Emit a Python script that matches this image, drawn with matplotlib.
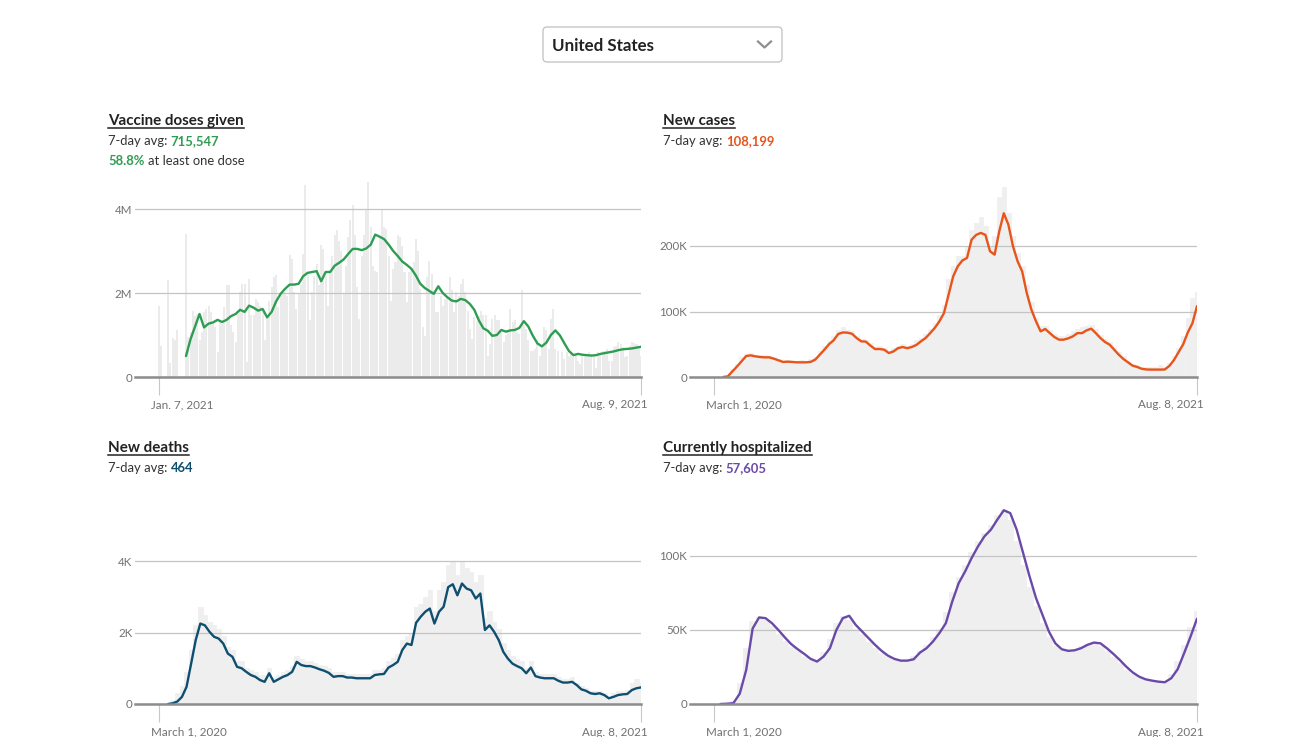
import numpy as np
import pandas as pd
import matplotlib
matplotlib.use('Agg')
import matplotlib.pyplot as plt
import matplotlib.dates as mdates
from matplotlib.patches import FancyBboxPatch
from matplotlib.lines import Line2D
from matplotlib.transforms import IdentityTransform

plt.rcParams['font.family'] = ['Lato', 'DejaVu Sans']

W, H = 1298, 737
nan = np.nan

# ---------------- data ----------------
country = 'United States'

# Vaccine doses given: daily doses (millions), Jan 7 -> Aug 9 2021
vax_start, vax_end = '2021-01-07', '2021-08-09'
vax_daily = [
    1.68, 0.75, 0, 0, 2.3, 0.33, 0.94, 0.89, 1.13, 0,
    0, 0, 3.41, 0.95, 1.07, 1.56, 1.45, 1.5, 0.87, 1.07,
    1.55, 1.63, 1.68, 1.55, 1.3, 1.2, 0.6, 1.3, 1.27, 1.66,
    2.2, 2.18, 1.23, 1.07, 0.83, 1.5, 2.02, 2.22, 2.22, 0.36,
    2.33, 1.47, 1.47, 1.85, 1.79, 1.7, 1.55, 0.87, 1.47, 1.8,
    2.14, 2.38, 2.42, 1.67, 2.02, 2.0, 2.02, 1.94, 2.9, 2.82,
    2.02, 1.63, 1.98, 2.18, 2.94, 4.58, 2.42, 1.35, 2.02, 2.4,
    2.7, 2.18, 3.14, 3.05, 2.4, 1.7, 2.49, 2.89, 3.37, 3.49,
    3.25, 3.0, 2.0, 2.65, 3.33, 3.73, 4.09, 3.37, 2.14, 1.38,
    2.89, 3.37, 4.0, 4.65, 3.57, 2.65, 2.53, 2.49, 3.33, 3.97,
    3.57, 3.53, 2.89, 1.82, 2.57, 2.73, 3.37, 3.33, 3.13, 2.49,
    1.78, 2.49, 2.57, 2.73, 3.29, 3.01, 2.1, 1.18, 0.98, 2.37,
    2.77, 2.45, 2.06, 1.54, 1.54, 1.94, 1.7, 1.86, 1.94, 2.37,
    2.06, 1.54, 2.02, 1.94, 2.22, 2.33, 2.02, 1.58, 1.14, 0.9,
    1.42, 1.34, 1.46, 1.58, 1.47, 1.47, 0.51, 0.79, 1.39, 1.47,
    1.35, 1.35, 1.07, 0.83, 0.99, 1.11, 1.63, 1.31, 1.35, 1.07,
    1.03, 2.07, 1.23, 1.15, 0.87, 0.63, 0.63, 0.67, 0.87, 0.51,
    0.71, 1.19, 1.11, 0.67, 1.39, 1.63, 0.67, 0.63, 0.02, 0.59,
    0.43, 0.59, 0.51, 0.59, 0.47, 0.55, 0.39, 0.31, 0.51, 0.51,
    0.55, 0.59, 0.55, 0.51, 0.22, 0.59, 0.55, 0.63, 0.63, 0.67,
    0.39, 0.39, 0.71, 0.75, 0.84, 0.79, 0.71, 0.47, 0.51, 0.75,
    0.84, 0.81, 0.79, 0.75, 0.51,
]
# 7-day average (millions), every 2 days from Jan 7 2021
vax_avg = [
    nan, nan, nan, nan, nan, nan, 0.5, 0.9, 1.2, 1.5,
    1.18, 1.27, 1.3, 1.36, 1.31, 1.36, 1.45, 1.5, 1.6, 1.55,
    1.7, 1.65, 1.58, 1.62, 1.42, 1.55, 1.8, 1.98, 2.1, 2.2,
    2.2, 2.22, 2.4, 2.48, 2.5, 2.52, 2.28, 2.5, 2.5, 2.65,
    2.72, 2.8, 2.93, 3.05, 3.05, 3.02, 3.06, 3.15, 3.39, 3.34,
    3.28, 3.15, 3.0, 2.88, 2.75, 2.67, 2.58, 2.42, 2.22, 2.12,
    2.05, 1.98, 2.16, 2.0, 1.9, 1.82, 1.8, 1.86, 1.83, 1.74,
    1.6, 1.35, 1.16, 1.1, 0.98, 1.0, 1.12, 1.08, 1.11, 1.12,
    1.17, 1.33, 1.2, 0.98, 0.8, 0.73, 0.82, 1.0, 1.11, 0.99,
    0.8, 0.62, 0.52, 0.55, 0.53, 0.52, 0.51, 0.52, 0.55, 0.57,
    0.59, 0.61, 0.64, 0.66, 0.67, 0.68, 0.7, 0.72,
]
vax_avg_label = '715,547'
vax_pct_label = '58.8%'

# Cases / deaths: every 5 days from Mar 1 2020 to Aug 8 2021
covid_start, covid_end = '2020-03-01', '2021-08-08'
cases_daily = [  # thousands
    0, 0, 0.3, 2, 12, 20, 30, 35, 36, 34,
    33, 33, 32, 31, 27, 25, 26, 25, 24, 26,
    24, 27, 30, 40, 48, 55, 62, 72, 76, 72,
    70, 62, 58, 56, 52, 46, 48, 44, 38, 44,
    48, 50, 48, 50, 56, 60, 65, 74, 82, 95,
    110, 150, 170, 185, 185, 200, 225, 235, 245, 230,
    200, 215, 275, 290, 250, 215, 190, 170, 140, 115,
    90, 78, 78, 72, 66, 62, 62, 66, 70, 74,
    76, 78, 80, 74, 64, 58, 54, 46, 38, 32,
    25, 20, 18, 16, 15, 15, 16, 18, 16, 22,
    32, 45, 62, 90, 120, 130,
]
cases_avg = [
    nan, nan, 0, 1, 8.6, 16, 24, 32, 33, 31.5,
    30.5, 30, 30, 28, 25.5, 23, 23.4, 23, 22.4, 22.4,
    22.4, 23, 26.5, 34, 41.7, 50, 56, 65.6, 68, 67.7,
    66, 59.5, 54.5, 54, 48, 42.7, 42.7, 41.7, 36.6, 39,
    44, 45.8, 44, 45.8, 49, 54.5, 59.5, 67, 75, 85,
    97.7, 125.7, 153.7, 169, 178, 181.7, 209.7, 217, 220, 217,
    192, 186.8, 222, 250, 232.5, 199.5, 176.6, 161, 128, 102.8,
    85, 69.7, 73.3, 67, 61, 57, 57, 59, 62, 67,
    67, 71.2, 73.8, 67, 59.5, 53.4, 49.4, 41.7, 34, 27.5,
    22.4, 17.3, 15.3, 12.5, 11.5, 11.3, 11.3, 11.3, 11.5, 17,
    26, 38, 50, 68, 82, 108.2,
]
cases_avg_label = '108,199'

deaths_daily = [  # thousands
    0, 0, 0.02, 0.1, 0.3, 0.5, 0.9, 1.5, 2.2, 2.7,
    2.5, 2.3, 2.2, 2.1, 1.9, 1.6, 1.5, 1.2, 1.2, 1.0,
    0.95, 0.9, 0.8, 0.8, 1.0, 0.75, 0.8, 0.9, 0.95, 1.05,
    1.35, 1.25, 1.2, 1.2, 1.15, 1.1, 1.05, 1.0, 0.9, 0.9,
    0.9, 0.85, 0.85, 0.85, 0.85, 0.85, 0.85, 0.95, 0.95, 1.0,
    1.2, 1.3, 1.4, 1.8, 1.9, 2.0, 2.7, 2.8, 3.0, 3.2,
    2.6, 3.2, 3.4, 3.9, 4.0, 3.6, 4.0, 3.8, 3.7, 3.4,
    3.6, 2.4, 2.6, 2.3, 2.1, 1.7, 1.5, 1.35, 1.25, 1.2,
    1.0, 1.2, 0.9, 0.85, 0.85, 0.85, 0.85, 0.75, 0.7, 0.7,
    0.75, 0.6, 0.5, 0.45, 0.35, 0.35, 0.35, 0.3, 0.2, 0.3,
    0.35, 0.35, 0.4, 0.6, 0.7, 0.6,
]
deaths_avg = [
    nan, nan, 0, 0.02, 0.07, 0.2, 0.48, 1.13, 1.79, 2.25,
    2.2, 2.02, 1.88, 1.83, 1.69, 1.41, 1.32, 1.04, 1.0, 0.9,
    0.81, 0.76, 0.67, 0.62, 0.86, 0.62, 0.69, 0.76, 0.81, 0.9,
    1.18, 1.09, 1.06, 1.06, 1.02, 0.97, 0.93, 0.87, 0.76, 0.78,
    0.78, 0.74, 0.74, 0.72, 0.72, 0.72, 0.72, 0.81, 0.83, 0.84,
    1.02, 1.09, 1.18, 1.51, 1.69, 1.65, 2.27, 2.44, 2.58, 2.67,
    2.25, 2.58, 2.72, 3.27, 3.35, 3.04, 3.37, 3.23, 3.18, 2.95,
    3.09, 2.07, 2.2, 2.02, 1.79, 1.46, 1.27, 1.13, 1.06, 1.0,
    0.86, 1.02, 0.78, 0.74, 0.72, 0.72, 0.72, 0.65, 0.6, 0.6,
    0.62, 0.53, 0.41, 0.37, 0.3, 0.28, 0.3, 0.25, 0.16, 0.2,
    0.25, 0.27, 0.28, 0.39, 0.44, 0.464,
]
deaths_avg_label = '464'

# Currently hospitalized: weekly from Mar 1 2020 (thousands)
hosp_daily = [
    0, 0, 0.3, 2, 14, 38, 56, 59, 57, 52.5,
    47.5, 42.5, 38.7, 35.5, 32, 29.5, 30, 35, 44, 55,
    59.5, 57, 51, 47, 42, 38, 34.5, 31.5, 30, 29.3,
    29.7, 32.5, 36, 40, 45, 51, 62, 76, 86, 94,
    102.5, 110, 115.5, 121, 128, 131, 124, 110, 94, 79,
    66, 55, 45, 39, 36.5, 36, 37, 39, 40.8, 41.3,
    39.5, 36, 32, 27.5, 23.3, 20, 17.6, 16.2, 15.4, 14.9,
    15.5, 20, 29, 40, 52, 63,
]
hosp_avg = [
    nan, 0, 0.2, 0.5, 7, 23, 51, 58.5, 58, 54.6,
    50, 45, 40.4, 37, 33.9, 30.5, 28.7, 32, 37.7, 50,
    58, 59.6, 53.5, 49, 44.5, 40, 36, 32.7, 30.5, 29.3,
    29.3, 30.2, 34.8, 37.7, 42.2, 47.9, 54.6, 69.3, 81.7, 89.6,
    98.6, 106.5, 113.3, 117.8, 124.6, 130.9, 129, 117.8, 102, 86.2,
    71.6, 60.3, 49, 41, 37, 35.9, 36.3, 37.7, 40, 41.5,
    41, 37.7, 33.9, 29.8, 25.3, 21.4, 18.5, 16.7, 15.8, 15.1,
    14.7, 17.4, 23.5, 34.3, 45.6, 57.6,
]
hosp_avg_label = '57,605'

vax_xlabels = ['Jan. 7, 2021', 'Aug. 9, 2021']
covid_xlabels = ['March 1, 2020', 'Aug. 8, 2021']

# ---------------- style ----------------
BAR = '#ebebeb'
BAR_DENSE = '#efefef'
GRID = '#c4c4c4'
ZERO = '#8c8c8c'
TICKTXT = '#707070'
DARK = '#333333'
GREEN = '#2e9d52'
ORANGE = '#e8541a'
BLUE = '#0e4f70'
PURPLE = '#6a4aa8'

fig = plt.figure(figsize=(W / 100, H / 100), dpi=100)
fig.patch.set_facecolor('white')


def px_axes(left, top, right, bottom):
    return fig.add_axes([left / W, 1 - bottom / H, (right - left) / W, (bottom - top) / H])


def draw_panel(rect, data_left, start, end, bar_vals, bar_step, line_vals, line_step,
               color, ymax, yticks, yticklabels, xlabels):
    left, top, right, bottom = rect
    ax = px_axes(*rect)
    s = mdates.date2num(pd.Timestamp(start))
    e = mdates.date2num(pd.Timestamp(end))
    bar_x = mdates.date2num(pd.date_range(start, periods=len(bar_vals), freq=f'{bar_step}D'))
    line_x = mdates.date2num(pd.date_range(start, periods=len(line_vals), freq=f'{line_step}D'))
    if bar_step == 1:
        ax.bar(bar_x, bar_vals, width=0.9, color=BAR, linewidth=0, zorder=1)
    else:
        ax.bar(bar_x, bar_vals, width=bar_step, color=BAR_DENSE, edgecolor=BAR_DENSE,
               linewidth=0.6, zorder=1)
    ax.plot(line_x, line_vals, color=color, lw=1.7, zorder=3,
            solid_joinstyle='round', solid_capstyle='round')
    pad = (e - s) * (data_left - left) / (right - data_left)
    ax.set_xlim(s - pad, e)
    ax.set_ylim(0, ymax)
    for sp in ax.spines.values():
        sp.set_visible(False)
    ax.set_axisbelow('line')
    ax.yaxis.grid(True, color=GRID, lw=0.9)
    ax.set_yticks(yticks, labels=yticklabels)
    ax.tick_params(axis='y', length=0, pad=2, labelsize=8.3, labelcolor=TICKTXT)
    ax.axhline(0, color=ZERO, lw=1.8, zorder=4, clip_on=False)
    ax.set_xticks([s, e])
    ax.tick_params(axis='x', length=13, width=0.8, color='#c8c8c8', labelbottom=False)
    ax.annotate(xlabels[0], xy=(s, 0), xycoords=('data', 'axes fraction'),
                xytext=(-8, -28), textcoords='offset pixels', ha='left', va='center',
                fontsize=8.4, color=TICKTXT, annotation_clip=False)
    ax.annotate(xlabels[1], xy=(e, 0), xycoords=('data', 'axes fraction'),
                xytext=(7, -28), textcoords='offset pixels', ha='right', va='center',
                fontsize=8.4, color=TICKTXT, annotation_clip=False)
    return ax


draw_panel((135, 177, 641, 377), 159, vax_start, vax_end, vax_daily, 1, vax_avg, 2,
           GREEN, 200 / 42, [0, 2, 4], ['0', '2M', '4M'], vax_xlabels)
draw_panel((690, 177, 1197, 377), 714, covid_start, covid_end, cases_daily, 5, cases_avg, 5,
           ORANGE, 200 / 0.655, [0, 100, 200], ['0', '100K', '200K'], covid_xlabels)
draw_panel((135, 504, 641, 704), 159, covid_start, covid_end, deaths_daily, 5, deaths_avg, 5,
           BLUE, 200 / 35.75, [0, 2, 4], ['0', '2K', '4K'], covid_xlabels)
draw_panel((690, 504, 1197, 704), 714, covid_start, covid_end, hosp_daily, 7, hosp_avg, 7,
           PURPLE, 200 / 1.48, [0, 50, 100], ['0', '50K', '100K'], covid_xlabels)

# ---------------- text ----------------
renderer = fig.canvas.get_renderer()


def fig_text(x, y, s, **kw):
    return fig.text(x / W, 1 - y / H, s, va='baseline', **kw)


def text_run(x, y, parts, size=9.4):
    for s, color, weight in parts:
        t = fig_text(x, y, s, color=color, fontweight=weight, fontsize=size)
        x += t.get_window_extent(renderer).width + size * 1.33 * 0.27


def title(x, y, s):
    t = fig_text(x, y, s, color='#222222', fontweight='bold', fontsize=10.9)
    bb = t.get_window_extent(renderer)
    fig.add_artist(Line2D([bb.x0, bb.x1], [H - y - 3, H - y - 3], color='#222222',
                          lw=1.1, transform=IdentityTransform()))


title(108, 125, 'Vaccine doses given')
text_run(108, 145, [('7-day avg:', DARK, 'normal'), (vax_avg_label, GREEN, 'bold')])
text_run(108, 165, [(vax_pct_label, GREEN, 'bold'), ('at least one dose', DARK, 'normal')])

title(663, 125, 'New cases')
text_run(663, 145, [('7-day avg:', DARK, 'normal'), (cases_avg_label, ORANGE, 'bold')])

title(108, 452, 'New deaths')
text_run(108, 472, [('7-day avg:', DARK, 'normal'), (deaths_avg_label, BLUE, 'bold')])

title(663, 452, 'Currently hospitalized')
text_run(663, 472, [('7-day avg:', DARK, 'normal'), (hosp_avg_label, PURPLE, 'bold')])

# dropdown selector
fig.add_artist(FancyBboxPatch((543, H - 62), 239, 35, boxstyle='round,pad=0,rounding_size=4',
                              transform=IdentityTransform(), fc='white', ec='#c6c6c6', lw=1))
fig_text(552, 51, country, color='#222222', fontweight='bold', fontsize=12.2)
fig.add_artist(Line2D([758, 764.5, 771], [H - 41.5, H - 47.5, H - 41.5], color='#8e8e8e',
                      lw=1.6, transform=IdentityTransform()))

fig.savefig('out.png', dpi=100, facecolor='white')
